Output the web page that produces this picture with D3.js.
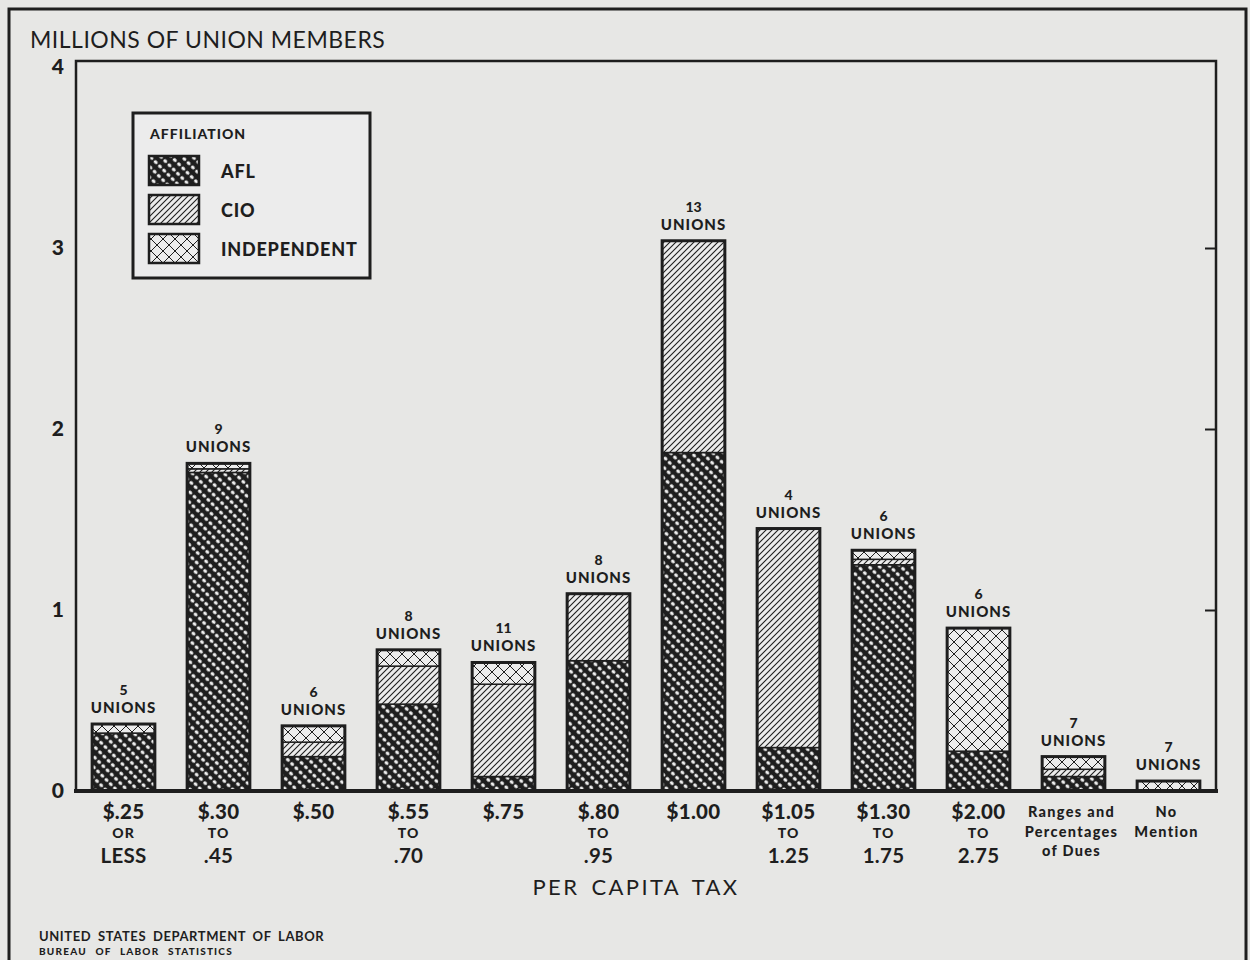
<!DOCTYPE html>
<html>
<head>
<meta charset="utf-8">
<script src="https://cdn.jsdelivr.net/npm/d3@7"></script>
<style>
  body { margin: 0; background: #e7e7e5; }
  svg { display: block; }
</style>
</head>
<body>
<script>
// tax brackets (each line of the label)
var categories = [
  ["$.25", "OR", "LESS"],
  ["$.30", "TO", ".45"],
  ["$.50"],
  ["$.55", "TO", ".70"],
  ["$.75"],
  ["$.80", "TO", ".95"],
  ["$1.00"],
  ["$1.05", "TO", "1.25"],
  ["$1.30", "TO", "1.75"],
  ["$2.00", "TO", "2.75"],
  ["Ranges and", "Percentages", "of Dues"],
  ["No", "Mention"]
]
// millions of members
var afl = [0.32, 1.76, 0.19, 0.48, 0.08, 0.72, 1.87, 0.24, 1.25, 0.22, 0.08, 0]
var cio = [0, 0.02, 0.08, 0.21, 0.51, 0.37, 1.17, 1.21, 0.03, 0, 0.04, 0]
var independent = [0.05, 0.03, 0.09, 0.09, 0.12, 0, 0, 0, 0.05, 0.68, 0.07, 0.055]
var unionCounts = [5, 9, 6, 8, 11, 8, 13, 4, 6, 6, 7, 7]
var yTicks = [0, 1, 2, 3, 4]

var W = 1250, H = 960
var ink = "#1e1e1e"
var font = "Lato, 'DejaVu Sans', sans-serif"

var svg = d3.select("body").append("svg").attr("width", W).attr("height", H)

// patterns
var defs = svg.append("defs")
// AFL: black with diagonal rows of white dashes
var pAfl = defs.append("pattern").attr("id", "p-afl").attr("patternUnits", "userSpaceOnUse")
  .attr("width", 7.5).attr("height", 6).attr("patternTransform", "rotate(-45)")
pAfl.append("rect").attr("width", 7.5).attr("height", 6).attr("fill", ink)
pAfl.append("rect").attr("x", 2.3).attr("y", 0.8).attr("width", 3).attr("height", 4.2)
  .attr("rx", 1.4).attr("fill", "#f0f0f0")

var pCio = defs.append("pattern").attr("id", "p-cio").attr("patternUnits", "userSpaceOnUse")
  .attr("width", 6).attr("height", 6)
pCio.append("rect").attr("width", 6).attr("height", 6).attr("fill", "#ececec")
pCio.append("path").attr("d", "M-1,7 L7,-1 M-4,4 L4,-4 M2,10 L10,2")
  .attr("stroke", ink).attr("stroke-width", 1.1)

var pInd = defs.append("pattern").attr("id", "p-ind").attr("patternUnits", "userSpaceOnUse")
  .attr("width", 12).attr("height", 12)
pInd.append("rect").attr("width", 12).attr("height", 12).attr("fill", "#ececec")
pInd.append("path").attr("d", "M0,0 L12,12 M0,12 L12,0")
  .attr("stroke", ink).attr("stroke-width", 1)

// outer frame
svg.append("rect").attr("x", 9).attr("y", 9).attr("width", 1237).attr("height", 960)
  .attr("fill", "none").attr("stroke", ink).attr("stroke-width", 3)

var plotLeft = 76, plotRight = 1216, plotTop = 61, plotBottom = 791

var x = d3.scaleBand().domain(d3.range(categories.length)).range([plotLeft, plotRight])
  .paddingInner(0.34).paddingOuter(0.17)
var y = d3.scaleLinear().domain([0, 4]).range([plotBottom, 67])

var keys = ["afl", "cio", "independent"]
var fills = { afl: "url(#p-afl)", cio: "url(#p-cio)", independent: "url(#p-ind)" }
var rows = categories.map(function(c, i) {
  return { i: i, afl: afl[i], cio: cio[i], independent: independent[i] }
})
var stack = d3.stack().keys(keys)(rows)

// segments
svg.append("g").selectAll("g").data(stack).enter().append("g")
  .attr("fill", function(d) { return fills[d.key] })
  .selectAll("rect").data(function(d) { return d }).enter()
  .filter(function(d) { return d[1] - d[0] > 0 })
  .append("rect")
  .attr("x", function(d) { return x(d.data.i) })
  .attr("y", function(d) { return y(d[1]) })
  .attr("width", x.bandwidth())
  .attr("height", function(d) { return y(d[0]) - y(d[1]) })
  .attr("stroke", ink).attr("stroke-width", 1.5)

// bar outlines
var totals = rows.map(function(r) { return r.afl + r.cio + r.independent })
svg.append("g").selectAll("rect").data(totals).enter().append("rect")
  .attr("x", function(d, i) { return x(i) })
  .attr("y", function(d) { return y(d) })
  .attr("width", x.bandwidth())
  .attr("height", function(d) { return y(0) - y(d) })
  .attr("fill", "none").attr("stroke", ink).attr("stroke-width", 3)

// union count labels
var lab = svg.append("g").attr("font-family", font).attr("font-weight", 900)
  .attr("fill", ink).attr("text-anchor", "middle")
lab.selectAll(".n").data(totals).enter().append("text")
  .attr("x", function(d, i) { return x(i) + x.bandwidth() / 2 })
  .attr("y", function(d) { return y(d) - 29 })
  .attr("font-size", 14)
  .text(function(d, i) { return unionCounts[i] })
lab.selectAll(".u").data(totals).enter().append("text")
  .attr("x", function(d, i) { return x(i) + x.bandwidth() / 2 })
  .attr("y", function(d) { return y(d) - 11 })
  .attr("font-size", 15).attr("letter-spacing", 1)
  .text("UNIONS")

// plot frame
svg.append("rect").attr("x", plotLeft).attr("y", plotTop)
  .attr("width", plotRight - plotLeft).attr("height", plotBottom - plotTop)
  .attr("fill", "none").attr("stroke", ink).attr("stroke-width", 2.5)
svg.append("line").attr("x1", plotLeft - 2).attr("x2", plotRight + 2)
  .attr("y1", plotBottom).attr("y2", plotBottom)
  .attr("stroke", ink).attr("stroke-width", 4)

// y axis labels (left) and inward ticks (right)
var yl = svg.append("g").attr("transform", "translate(" + plotLeft + ",0)")
  .call(d3.axisLeft(y).tickValues(yTicks).tickSize(0).tickPadding(12).tickFormat(d3.format("d")))
yl.select(".domain").remove()
yl.selectAll("text").attr("font-family", font).attr("font-weight", 900).attr("font-size", 21).attr("fill", ink)

var yr = svg.append("g").attr("transform", "translate(" + plotRight + ",0)")
  .call(d3.axisLeft(y).tickValues([1, 2, 3]).tickSize(11).tickFormat(""))
yr.select(".domain").remove()
yr.selectAll("line").attr("stroke", ink).attr("stroke-width", 2)

// x axis labels
var xa = svg.append("g").attr("transform", "translate(0," + plotBottom + ")")
  .call(d3.axisBottom(x).tickSize(0).tickFormat(""))
xa.select(".domain").remove()
xa.selectAll(".tick").each(function(i) {
  var lines = categories[i]
  var small = lines[0].length > 6 || lines[0] == "No"
  var t = d3.select(this).select("text").attr("y", 0).attr("dy", null)
    .attr("font-family", font).attr("font-weight", 900).attr("fill", ink)
  lines.forEach(function(s, k) {
    var isTo = (s == "TO" || s == "OR")
    t.append("tspan").attr("x", small ? -2 : 0)
      .attr("y", small ? 26 + k * 19.5 : (k == 0 ? 28 : k == 1 ? 47 : 72))
      .attr("font-size", small ? 14.5 : (isTo ? 14 : 20.5))
      .attr("font-weight", isTo || small || k == 0 ? 900 : 700)
      .attr("letter-spacing", small ? 1.3 : (isTo ? 1 : 0.3))
      .text(s)
  })
})

// titles
svg.append("text").attr("x", 30).attr("y", 48).attr("font-family", font).attr("font-size", 23)
  .attr("letter-spacing", 0.5).attr("fill", ink).text("MILLIONS OF UNION MEMBERS")
svg.append("text").attr("x", (plotLeft + plotRight) / 2 - 10).attr("y", 895).attr("text-anchor", "middle")
  .attr("font-family", font).attr("font-size", 22).attr("letter-spacing", 2.4).attr("word-spacing", 4)
  .attr("fill", ink).text("PER CAPITA TAX")
svg.append("text").attr("x", 39).attr("y", 941).attr("font-family", font).attr("font-size", 13)
  .attr("font-weight", 700).attr("letter-spacing", 0.6).attr("word-spacing", 3)
  .attr("fill", ink).text("UNITED STATES DEPARTMENT OF LABOR")
svg.append("text").attr("x", 39).attr("y", 955).attr("font-family", font).attr("font-size", 10)
  .attr("font-weight", 900).attr("letter-spacing", 1.2).attr("word-spacing", 5)
  .attr("fill", ink).text("BUREAU OF LABOR STATISTICS")

// legend
var lg = svg.append("g").attr("transform", "translate(133,113)")
lg.append("rect").attr("width", 237).attr("height", 165).attr("fill", "#ececec")
  .attr("stroke", ink).attr("stroke-width", 3)
lg.append("text").attr("x", 17).attr("y", 26).attr("font-family", font).attr("font-weight", 900)
  .attr("font-size", 14).attr("letter-spacing", 1).attr("fill", ink).text("AFFILIATION")
var legendNames = ["AFL", "CIO", "INDEPENDENT"]
keys.forEach(function(k, i) {
  var yy = 43 + i * 39
  lg.append("rect").attr("x", 16).attr("y", yy).attr("width", 50).attr("height", 29)
    .attr("fill", fills[k]).attr("stroke", ink).attr("stroke-width", 2.5)
  lg.append("text").attr("x", 88).attr("y", yy + 22).attr("font-family", font).attr("font-weight", 900)
    .attr("font-size", 18).attr("letter-spacing", 0.8).attr("fill", ink).text(legendNames[i])
})
</script>
</body>
</html>
